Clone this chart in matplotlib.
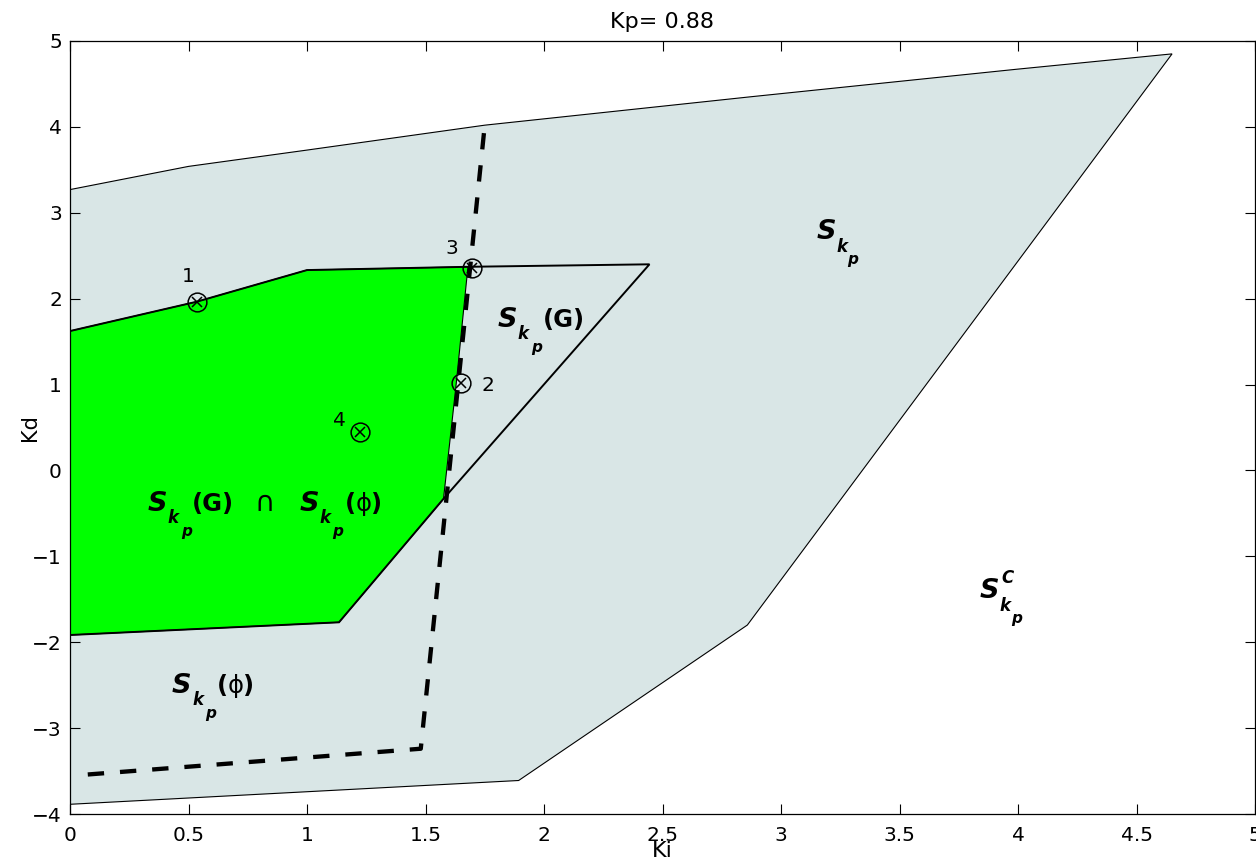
import matplotlib
matplotlib.use("Agg")
import matplotlib.pyplot as plt
from matplotlib.patches import Polygon

plt.rcParams['font.family'] = ['DejaVu Sans']

# Stabilising (Ki, Kd) region for the fixed proportional gain
region_ki = [0.0, 0.5, 1.0, 1.75, 2.87, 3.99, 4.65, 2.858, 1.893, 0.0]
region_kd = [3.27, 3.54, 3.73, 4.02, 4.35, 4.67, 4.85, -1.80, -3.61, -3.887]

# Gain-margin region S_kp(G)
gain_ki = [0.0, 0.534, 1.0, 1.679, 2.445, 1.576, 1.135, 0.0]
gain_kd = [1.623, 1.964, 2.333, 2.371, 2.40, -0.33, -1.768, -1.916]

# Intersection of the gain- and phase-margin regions
both_ki = [0.0, 0.534, 1.0, 1.679, 1.630, 1.576, 1.135, 0.0]
both_kd = [1.623, 1.964, 2.333, 2.371, 1.02, -0.33, -1.768, -1.916]

# Phase-margin boundary
phase_ki = [0.075, 1.48, 1.75]
phase_kd = [-3.54, -3.24, 4.02]

# Test points and their label offsets (pixels)
point_ids = ['1', '2', '3', '4']
point_ki = [0.534, 1.648, 1.698, 1.2255]
point_kd = [1.964, 1.021, 2.353, 0.452]
point_label_off = [(-8, 25), (27, -3), (-21, 20), (-21, 11)]

kp_value = 0.88
x_ticks = [0, 0.5, 1, 1.5, 2, 2.5, 3, 3.5, 4, 4.5, 5]
x_tick_labels = ['0', '0.5', '1', '1.5', '2', '2.5', '3', '3.5', '4', '4.5', '5']
y_ticks = [-4, -3, -2, -1, 0, 1, 2, 3, 4, 5]

GRAY = '#d9e6e6'
GREEN = '#00ff00'

fig = plt.figure(figsize=(12.56, 8.61), dpi=100)
ax = fig.add_axes([70 / 1256, 47 / 861, 1185 / 1256, 773 / 861])

ax.add_patch(Polygon(list(zip(region_ki, region_kd)), closed=True,
                     facecolor=GRAY, edgecolor='black', lw=0.8, zorder=1))
ax.add_patch(Polygon(list(zip(both_ki, both_kd)), closed=True,
                     facecolor=GREEN, edgecolor='black', lw=0.8, zorder=2))
ax.add_patch(Polygon(list(zip(gain_ki, gain_kd)), closed=True,
                     facecolor='none', edgecolor='black', lw=1.4, zorder=3))
ax.plot(phase_ki, phase_kd, color='black', lw=3.1,
        linestyle=(0, (3.8, 3.7)), solid_capstyle='butt', zorder=4)

ax.plot(point_ki, point_kd, 'o', ms=13.5, mfc='none', mec='black', mew=1.1, zorder=5)
ax.plot(point_ki, point_kd, 'x', ms=7, mec='black', mew=1.1, zorder=5)
for pid, px, py, (dx, dy) in zip(point_ids, point_ki, point_kd, point_label_off):
    ax.annotate(pid, xy=(px, py), xytext=(dx, dy), textcoords='offset pixels',
                ha='center', va='center', fontsize=14.5, zorder=6)


def compound_label(x, y, pieces):
    """Draw a label made of pieces offset (in pixels) from a baseline anchor."""
    for s, dx, dy, size, weight, style in pieces:
        ax.annotate(s, xy=(x, y), xytext=(dx, -dy), textcoords='offset pixels',
                    ha='left', va='baseline', fontsize=size,
                    fontweight=weight, fontstyle=style, zorder=6)


S = ('S', 0, 0, 19.5, 'bold', 'italic')


def sub_k(dx, dy=12):
    return ('k', dx, dy, 12, 'bold', 'italic')


def sub_p(dx, dy=25):
    return ('p', dx, dy, 11, 'bold', 'italic')


compound_label(0.329, -0.473, [
    S, sub_k(20), sub_p(33), ('(G)', 44, 0, 17.5, 'bold', 'normal'),
    ('\u2229', 106, 0, 20, 'normal', 'normal'),
    ('S', 152, 0, 19.5, 'bold', 'italic'), sub_k(172), sub_p(184),
    ('(', 197, 0, 17.5, 'bold', 'normal'), ('\u03d5', 208, 0, 17.5, 'normal', 'normal'),
    (')', 222, 0, 17.5, 'bold', 'normal'),
])
compound_label(0.430, -2.591, [
    S, sub_k(21), sub_p(33),
    ('(', 45, 0, 17.5, 'bold', 'normal'), ('\u03d5', 56, 0, 17.5, 'normal', 'normal'),
    (')', 70, 0, 17.5, 'bold', 'normal'),
])
compound_label(1.804, 1.670, [
    S, sub_k(20), sub_p(34), ('(G)', 45, 0, 17.5, 'bold', 'normal'),
])
compound_label(3.149, 2.693, [S, sub_k(20, 13), sub_p(31)])
compound_label(3.836, -1.485, [
    S, ('C', 22, -15, 12, 'bold', 'italic'), sub_k(20, 13), sub_p(32),
])

ax.set_xlim(0, 5)
ax.set_ylim(-4, 5)
ax.set_xticks(x_ticks)
ax.set_xticklabels(x_tick_labels)
ax.set_yticks(y_ticks)
ax.tick_params(direction='in', length=7, width=0.8, top=True, right=True,
               labelsize=14.5)
ax.tick_params(axis='x', pad=8.5)
ax.tick_params(axis='y', pad=5.8)
for sp in ax.spines.values():
    sp.set_linewidth(0.9)

ax.set_title(f'Kp= {kp_value}', fontsize=16, pad=9)
ax.set_xlabel('Ki', fontsize=16)
ax.xaxis.set_label_coords(0.5, -0.035)
ax.set_ylabel('Kd', fontsize=15)
ax.yaxis.set_label_coords(-0.0253, 0.5)

fig.savefig('out.png', dpi=100)
